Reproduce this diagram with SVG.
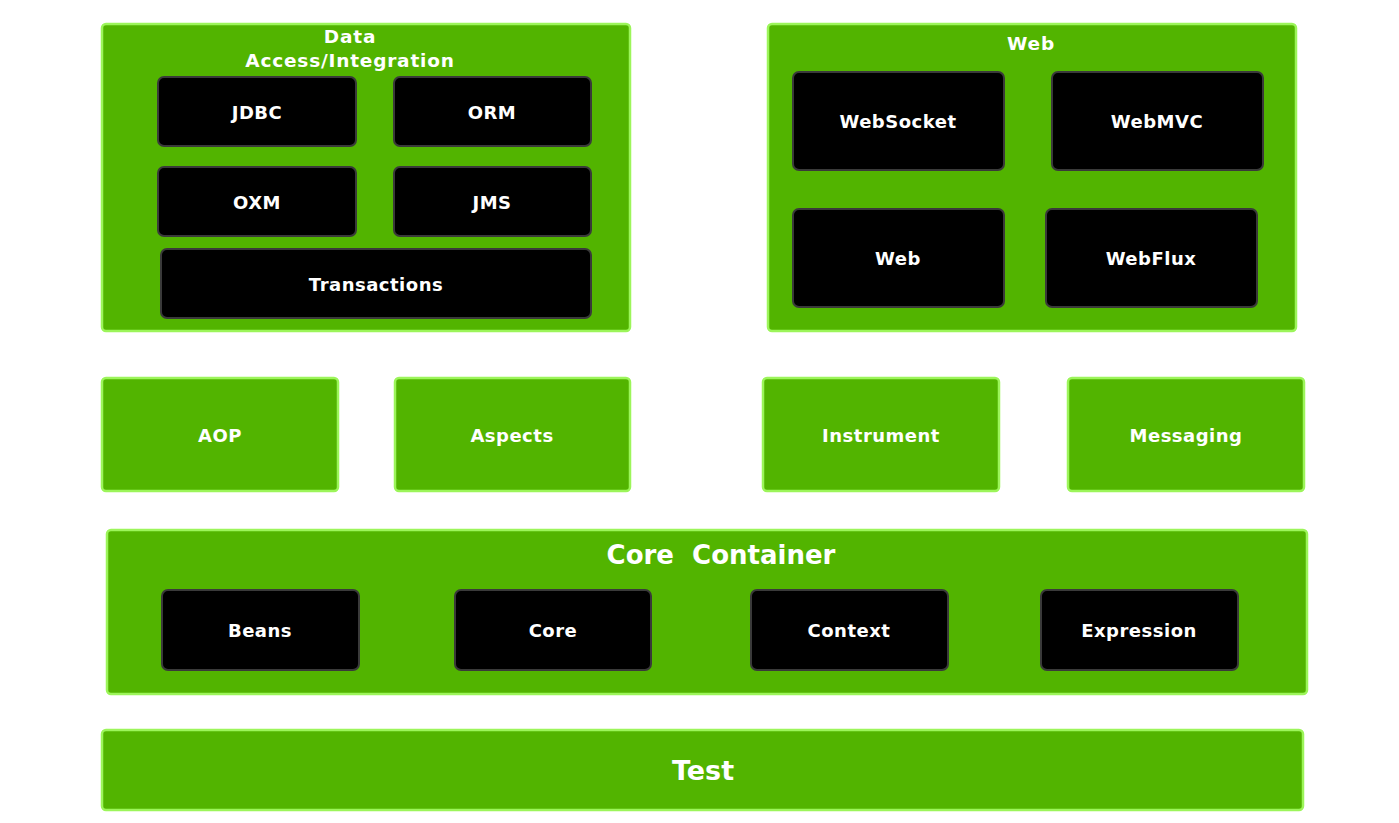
<svg xmlns="http://www.w3.org/2000/svg" width="1399" height="823" viewBox="0 0 1399 823">
<style>
.g{fill:#52b400;stroke:#9cf55a;stroke-width:2.5}
.b{fill:#000;stroke:#3a3a3a;stroke-width:2}
text{font-family:"DejaVu Sans","Verdana",sans-serif;font-weight:bold;fill:#fff;text-anchor:middle;dominant-baseline:central}
.s{font-size:18px;letter-spacing:0.5px}
.t{font-size:18.5px;letter-spacing:0.8px}
.l{font-size:27px}
.c{font-size:26px}
</style>
<rect width="1399" height="823" fill="#fff"/>
<g id="data">
<rect class="g" x="102" y="24" width="528" height="307" rx="4"/>
<text class="t" x="350" y="36">Data</text>
<text class="t" x="350" y="60">Access/Integration</text>
</g>
<g id="jdbc"><rect class="b" x="158" y="77" width="198" height="69" rx="6"/><text class="s" x="257" y="112">JDBC</text></g>
<g id="orm"><rect class="b" x="394" y="77" width="197" height="69" rx="6"/><text class="s" x="492" y="112">ORM</text></g>
<g id="oxm"><rect class="b" x="158" y="167" width="198" height="69" rx="6"/><text class="s" x="257" y="202">OXM</text></g>
<g id="jms"><rect class="b" x="394" y="167" width="197" height="69" rx="6"/><text class="s" x="492" y="202">JMS</text></g>
<g id="transactions"><rect class="b" x="161" y="249" width="430" height="69" rx="6"/><text class="s" x="376" y="284">Transactions</text></g>
<g id="web">
<rect class="g" x="768" y="24" width="528" height="307" rx="4"/>
<text class="t" x="1031" y="43">Web</text>
</g>
<g id="websocket"><rect class="b" x="793" y="72" width="211" height="98" rx="6"/><text class="s" x="898" y="121">WebSocket</text></g>
<g id="webmvc"><rect class="b" x="1052" y="72" width="211" height="98" rx="6"/><text class="s" x="1157" y="121">WebMVC</text></g>
<g id="webmod"><rect class="b" x="793" y="209" width="211" height="98" rx="6"/><text class="s" x="898" y="258">Web</text></g>
<g id="webflux"><rect class="b" x="1046" y="209" width="211" height="98" rx="6"/><text class="s" x="1151" y="258">WebFlux</text></g>
<g id="aop"><rect class="g" x="102" y="378" width="236" height="113" rx="4"/><text class="s" x="220" y="435">AOP</text></g>
<g id="aspects"><rect class="g" x="395" y="378" width="235" height="113" rx="4"/><text class="s" x="512" y="435">Aspects</text></g>
<g id="instrument"><rect class="g" x="763" y="378" width="236" height="113" rx="4"/><text class="s" x="881" y="435">Instrument</text></g>
<g id="messaging"><rect class="g" x="1068" y="378" width="236" height="113" rx="4"/><text class="s" x="1186" y="435">Messaging</text></g>
<g id="core-container">
<rect class="g" x="107" y="530" width="1200" height="164" rx="4"/>
<text class="c" x="721" y="555" xml:space="preserve">Core  Container</text>
</g>
<g id="beans"><rect class="b" x="162" y="590" width="197" height="80" rx="6"/><text class="s" x="260" y="630">Beans</text></g>
<g id="core"><rect class="b" x="455" y="590" width="196" height="80" rx="6"/><text class="s" x="553" y="630">Core</text></g>
<g id="context"><rect class="b" x="751" y="590" width="197" height="80" rx="6"/><text class="s" x="849" y="630">Context</text></g>
<g id="expression"><rect class="b" x="1041" y="590" width="197" height="80" rx="6"/><text class="s" x="1139" y="630">Expression</text></g>
<g id="test"><rect class="g" x="102" y="730" width="1201" height="80" rx="4"/><text class="l" x="703" y="770">Test</text></g>
<g id="connectors"/>
</svg>
